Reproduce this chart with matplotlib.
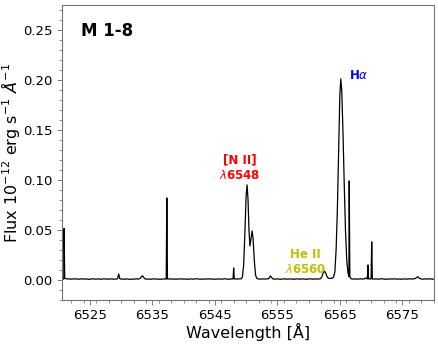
import matplotlib
matplotlib.use("Agg")
import matplotlib.pyplot as plt
from matplotlib.ticker import MultipleLocator

# spectrum of M 1-8 around H-alpha
wave = [
    6520.5, 6520.8, 6520.85, 6520.95, 6521.0, 6521.3, 6521.6, 6521.9, 6522.2, 6522.5,
    6522.8, 6523.1, 6523.4, 6523.7, 6524.0, 6524.3, 6524.6, 6524.9, 6525.2, 6525.5,
    6525.8, 6526.1, 6526.4, 6526.7, 6527.0, 6527.3, 6527.6, 6527.9, 6528.2, 6528.5,
    6528.8, 6529.1, 6529.4, 6529.6, 6529.75, 6530.0, 6530.3, 6530.6, 6530.9, 6531.2,
    6531.5, 6531.8, 6532.1, 6532.4, 6532.7, 6533.0, 6533.2, 6533.4, 6533.6, 6533.8,
    6534.1, 6534.4, 6534.7, 6535.0, 6535.3, 6535.6, 6535.9, 6536.2, 6536.5, 6536.8,
    6537.1, 6537.2, 6537.3, 6537.4, 6537.6, 6537.9, 6538.2, 6538.5, 6538.8, 6539.1,
    6539.4, 6539.7, 6540.0, 6540.3, 6540.6, 6540.9, 6541.2, 6541.5, 6541.8, 6542.1,
    6542.4, 6542.7, 6543.0, 6543.3, 6543.6, 6543.9, 6544.2, 6544.5, 6544.8, 6545.1,
    6545.4, 6545.7, 6546.0, 6546.3, 6546.6, 6546.9, 6547.2, 6547.5, 6547.9, 6548.0,
    6548.1, 6548.4, 6548.7, 6549.0, 6549.2, 6549.4, 6549.6, 6549.8, 6550.0, 6550.15,
    6550.3, 6550.45, 6550.6, 6550.75, 6550.95, 6551.1, 6551.3, 6551.5, 6551.7, 6552.0,
    6552.3, 6552.6, 6552.9, 6553.2, 6553.6, 6553.8, 6553.9, 6554.05, 6554.3, 6554.6,
    6554.9, 6555.2, 6555.5, 6555.8, 6556.1, 6556.4, 6556.7, 6557.0, 6557.3, 6557.6,
    6557.9, 6558.2, 6558.5, 6558.8, 6559.1, 6559.4, 6559.7, 6560.0, 6560.3, 6560.6,
    6560.9, 6561.2, 6561.5, 6561.9, 6562.1, 6562.3, 6562.5, 6562.7, 6562.9, 6563.1,
    6563.4, 6563.6, 6563.8, 6564.0, 6564.2, 6564.4, 6564.6, 6564.8, 6565.0, 6565.15,
    6565.3, 6565.5, 6565.7, 6565.9, 6566.1, 6566.3, 6566.45, 6566.5, 6566.6, 6566.8,
    6567.1, 6567.4, 6567.7, 6568.0, 6568.3, 6568.6, 6568.9, 6569.2, 6569.4, 6569.5,
    6569.6, 6569.9, 6570.0, 6570.1, 6570.2, 6570.5, 6570.8, 6571.1, 6571.4, 6571.7,
    6572.0, 6572.3, 6572.6, 6572.9, 6573.2, 6573.5, 6573.8, 6574.1, 6574.4, 6574.7,
    6575.0, 6575.3, 6575.6, 6575.9, 6576.2, 6576.5, 6576.8, 6577.1, 6577.3, 6577.5,
    6577.7, 6578.0, 6578.3, 6578.6, 6578.9, 6579.2, 6579.5, 6579.8, 6580.1,
]
flux = [
    0.0010, 0.0010, 0.0515, 0.0020, 0.0015, 0.0010, 0.0012, 0.0008, 0.0011, 0.0009,
    0.0013, 0.0007, 0.0010, 0.0012, 0.0008, 0.0011, 0.0009, 0.0006, 0.0010, 0.0012,
    0.0008, 0.0009, 0.0011, 0.0007, 0.0010, 0.0012, 0.0008, 0.0010, 0.0009, 0.0011,
    0.0007, 0.0009, 0.0012, 0.0060, 0.0015, 0.0008, 0.0010, 0.0007, 0.0011, 0.0009,
    0.0006, 0.0010, 0.0008, 0.0011, 0.0009, 0.0014, 0.0030, 0.0042, 0.0025, 0.0011,
    0.0008, 0.0010, 0.0007, 0.0009, 0.0012, 0.0008, 0.0010, 0.0006, 0.0009, 0.0011,
    0.0008, 0.0010, 0.0820, 0.0010, 0.0009, 0.0012, 0.0008, 0.0010, 0.0007, 0.0011,
    0.0009, 0.0012, 0.0008, 0.0010, 0.0007, 0.0009, 0.0011, 0.0008, 0.0010, 0.0012,
    0.0009, 0.0007, 0.0010, 0.0008, 0.0011, 0.0009, 0.0012, 0.0008, 0.0010, 0.0007,
    0.0009, 0.0011, 0.0008, 0.0010, 0.0012, 0.0009, 0.0007, 0.0010, 0.0010, 0.0120,
    0.0012, 0.0009, 0.0011, 0.0012, 0.0012, 0.0030, 0.0150, 0.0480, 0.0850, 0.0950,
    0.0800, 0.0500, 0.0340, 0.0400, 0.0490, 0.0420, 0.0200, 0.0050, 0.0015, 0.0010,
    0.0008, 0.0011, 0.0009, 0.0010, 0.0012, 0.0035, 0.0040, 0.0025, 0.0010, 0.0008,
    0.0011, 0.0009, 0.0007, 0.0010, 0.0012, 0.0008, 0.0010, 0.0009, 0.0011, 0.0007,
    0.0009, 0.0012, 0.0008, 0.0010, 0.0011, 0.0009, 0.0007, 0.0010, 0.0012, 0.0008,
    0.0010, 0.0011, 0.0009, 0.0012, 0.0030, 0.0065, 0.0088, 0.0075, 0.0040, 0.0020,
    0.0015, 0.0016, 0.0018, 0.0030, 0.0080, 0.0300, 0.0700, 0.1300, 0.1850, 0.2010,
    0.1900, 0.1480, 0.0960, 0.0500, 0.0200, 0.0070, 0.0035, 0.0990, 0.0030, 0.0012,
    0.0009, 0.0011, 0.0008, 0.0010, 0.0012, 0.0009, 0.0010, 0.0020, 0.0010, 0.0150,
    0.0010, 0.0012, 0.0010, 0.0380, 0.0010, 0.0009, 0.0011, 0.0008, 0.0010, 0.0012,
    0.0009, 0.0007, 0.0010, 0.0008, 0.0011, 0.0009, 0.0012, 0.0008, 0.0010, 0.0007,
    0.0009, 0.0011, 0.0008, 0.0010, 0.0012, 0.0009, 0.0011, 0.0015, 0.0025, 0.0032,
    0.0018, 0.0010, 0.0008, 0.0011, 0.0009, 0.0010, 0.0012, 0.0008, 0.0010,
]

# line identifications
line_labels = ["[N II]\n$\\lambda$6548", "H$\\alpha$", "He II\n$\\lambda$6560"]
label_x = [6549.0, 6568.0, 6559.5]
label_y = [0.112, 0.204, 0.018]
label_colors = ["red", "blue", "y"]

fig = plt.figure(figsize=(4.39, 3.46), dpi=100)
ax = fig.add_axes([0.141, 0.133, 0.848, 0.853])

ax.plot(wave, flux, color="black", lw=0.9)

for txt, x, y, c in zip(line_labels, label_x, label_y, label_colors):
    ax.text(x, y, txt, color=c, fontsize=8.5, fontweight="bold",
            ha="center", va="center", linespacing=1.25)

ax.text(0.05, 0.912, "M 1-8", transform=ax.transAxes, fontsize=12,
        fontweight="bold", va="center")

ax.set_xlim(6520.5, 6580.1)
ax.set_ylim(-0.02, 0.275)
ax.set_xticks([6525, 6535, 6545, 6555, 6565, 6575])
ax.set_yticks([0.0, 0.05, 0.10, 0.15, 0.20, 0.25])
ax.xaxis.set_minor_locator(MultipleLocator(2))
ax.yaxis.set_minor_locator(MultipleLocator(0.01))
ax.tick_params(which="major", labelsize=9.5, length=3.5, width=0.6, color="0.4", pad=3)
ax.tick_params(which="minor", length=2, width=0.5, color="0.4")
for s in ax.spines.values():
    s.set_color("0.45")
    s.set_linewidth(0.8)

ax.set_xlabel("Wavelength [Å]", fontsize=11.5, labelpad=1)
ax.set_ylabel("Flux $10^{-12}$ erg s$^{-1}$ $\\AA^{-1}$", fontsize=11.5, labelpad=1)

fig.savefig("out.png", dpi=100)
